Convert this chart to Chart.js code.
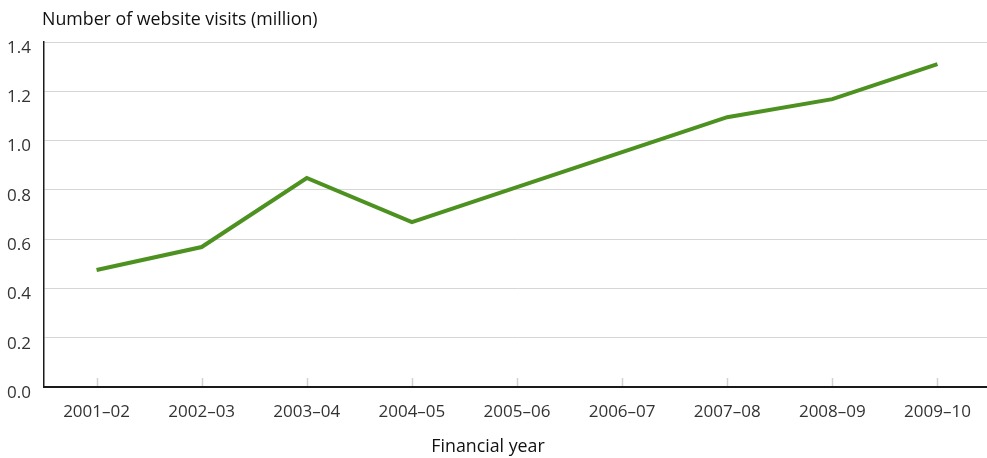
<!DOCTYPE html>
<html>
<head>
<meta charset="utf-8">
<script src="https://cdn.jsdelivr.net/npm/chart.js@4.4.1/dist/chart.umd.min.js"></script>
<style>
  html, body { margin: 0; padding: 0; background: #fff; overflow: hidden; }
  #wrap { width: 990px; height: 458px; position: relative; }
</style>
</head>
<body>
<div id="wrap"><canvas id="visitsChart"></canvas></div>
<script>
const years = ['2001–02', '2002–03', '2003–04', '2004–05', '2005–06', '2006–07', '2007–08', '2008–09', '2009–10'];
const visits = [0.475, 0.568, 0.848, 0.669, 0.811, 0.953, 1.095, 1.168, 1.31];
const yTitle = 'Number of website visits (million)';
const xTitle = 'Financial year';

const fontFamily = '"Open Sans", "Noto Sans", sans-serif';

// titles and the small upward category ticks, drawn by hand
const extrasPlugin = {
    id: 'extras',
    afterDraw(chart) {
        const ctx = chart.ctx;
        const area = chart.chartArea;
        const xScale = chart.scales.x;
        ctx.save();
        ctx.strokeStyle = '#d2d2d2';
        ctx.lineWidth = 1.5;
        xScale.ticks.forEach((t, i) => {
            const px = Math.round(xScale.getPixelForTick(i)) + 0.5;
            ctx.beginPath();
            ctx.moveTo(px, area.bottom - 1);
            ctx.lineTo(px, area.bottom - 9);
            ctx.stroke();
        });
        ctx.fillStyle = '#111';
        ctx.font = '17.8px ' + fontFamily;
        ctx.textBaseline = 'middle';
        ctx.textAlign = 'left';
        ctx.fillText(yTitle, area.left - 2, 20);
        ctx.textAlign = 'center';
        ctx.fillText(xTitle, 488, 447);
        ctx.restore();
    }
};

const ctx = document.getElementById('visitsChart').getContext('2d');
new Chart(ctx, {
    type: 'line',
    data: {
        labels: years,
        datasets: [{
            label: 'Website visits',
            data: visits,
            borderColor: '#4d9221',
            borderWidth: 4,
            pointRadius: 0,
            tension: 0,
            fill: false
        }]
    },
    options: {
        responsive: true,
        maintainAspectRatio: false,
        animation: false,
        layout: {
            padding: { top: 42, left: 0, right: 0, bottom: 0 }
        },
        plugins: {
            legend: { display: false },
            tooltip: { enabled: false }
        },
        scales: {
            x: {
                offset: true,
                grid: {
                    drawOnChartArea: false,
                    drawTicks: false
                },
                border: { display: true, color: '#1a1a1a', width: 2 },
                ticks: {
                    color: '#333',
                    font: { family: fontFamily, size: 17 },
                    padding: 15,
                    maxRotation: 0
                },
                afterFit(scale) { scale.height = 71; }
            },
            y: {
                min: 0,
                max: 1.4,
                grid: {
                    color: '#d6d6d6',
                    lineWidth: 1,
                    drawTicks: false
                },
                border: { display: true, color: '#1a1a1a', width: 1.5 },
                ticks: {
                    stepSize: 0.2,
                    color: '#333',
                    font: { family: fontFamily, size: 17 },
                    padding: 13,
                    labelOffset: 6,
                    callback: v => v.toFixed(1)
                },
                afterFit(scale) { scale.width = 44; }
            }
        }
    },
    plugins: [extrasPlugin]
});
</script>
</body>
</html>
